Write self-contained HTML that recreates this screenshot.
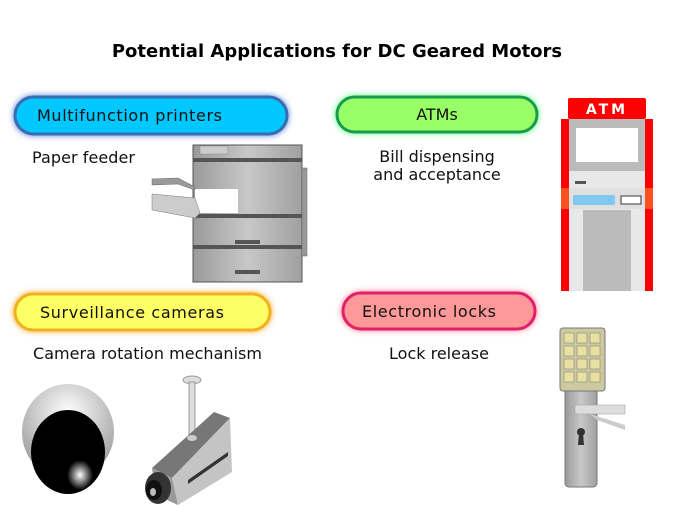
<!DOCTYPE html>
<html><head><style>
body{margin:0;background:#fff}
svg{display:block}
text{font-family:"DejaVu Sans","Liberation Sans",sans-serif}
</style></head><body>
<svg width="675" height="506" viewBox="0 0 675 506" xmlns="http://www.w3.org/2000/svg">
<defs>
<filter id="g" x="-20%" y="-50%" width="140%" height="200%"><feGaussianBlur stdDeviation="3"/></filter>
<linearGradient id="gr" x1="0" x2="1"><stop offset="0" stop-color="#9a9a9a"/><stop offset=".5" stop-color="#c8c8c8"/><stop offset="1" stop-color="#a0a0a0"/></linearGradient>
<radialGradient id="dome" cx=".5" cy=".3" r=".7"><stop offset="0" stop-color="#fff"/><stop offset="1" stop-color="#999"/></radialGradient>
<radialGradient id="hl" cx=".5" cy=".5" r=".5"><stop offset="0" stop-color="#fff"/><stop offset="1" stop-color="#000"/></radialGradient>
</defs>
<text x="337" y="57" text-anchor="middle" font-size="18" font-weight="bold">Potential Applications for DC Geared Motors</text>

<!-- pills -->
<rect x="13" y="95" width="276" height="41" rx="20" fill="#6a8fe0" filter="url(#g)"/>
<rect x="15" y="97" width="272" height="37" rx="18.5" fill="#00c8ff" stroke="#3a6cb0" stroke-width="3"/>
<text x="37" y="121" font-size="16" fill="#111" textLength="185">Multifunction printers</text>

<rect x="335" y="95" width="204" height="39" rx="19" fill="#70ff90" filter="url(#g)"/>
<rect x="337" y="97" width="200" height="35" rx="17.5" fill="#99ff66" stroke="#1a9a50" stroke-width="3"/>
<text x="437" y="120" font-size="16" text-anchor="middle" fill="#111">ATMs</text>

<rect x="13" y="292" width="259" height="40" rx="20" fill="#ffb040" filter="url(#g)"/>
<rect x="15" y="294" width="255" height="36" rx="18" fill="#ffff66" stroke="#f0b020" stroke-width="3"/>
<text x="40" y="318" font-size="16" fill="#111" textLength="184">Surveillance cameras</text>

<rect x="341" y="291" width="196" height="40" rx="20" fill="#ff90a0" filter="url(#g)"/>
<rect x="343" y="293" width="192" height="36" rx="18" fill="#ff9999" stroke="#e0206a" stroke-width="3"/>
<text x="362" y="317" font-size="16" fill="#111" textLength="134">Electronic locks</text>

<g font-size="16" fill="#111">
<text x="32" y="163" textLength="103">Paper feeder</text>
<text x="437" y="162" text-anchor="middle">Bill dispensing</text>
<text x="437" y="180" text-anchor="middle">and acceptance</text>
<text x="33" y="359" textLength="229">Camera rotation mechanism</text>
<text x="439" y="359" text-anchor="middle">Lock release</text>
</g>

<!-- printer -->
<rect x="193" y="145" width="109" height="137" fill="url(#gr)" stroke="#555"/>
<rect x="302" y="168" width="5" height="88" fill="#999" stroke="#666" stroke-width=".5"/>
<rect x="200" y="146" width="28" height="8" fill="#ccc" stroke="#888" stroke-width=".5"/>
<rect x="193" y="158" width="109" height="4" fill="#555"/>
<rect x="193" y="214" width="109" height="4" fill="#555"/>
<rect x="193" y="245" width="109" height="4" fill="#555"/>
<rect x="195" y="189" width="43" height="24" fill="#fff"/>
<rect x="235" y="240" width="25" height="4" fill="#555"/>
<rect x="235" y="270" width="25" height="4" fill="#555"/>
<path d="M152 179 L178 178 L195 187 L195 190 L178 184 L152 185Z" fill="#999" stroke="#666" stroke-width=".5"/>
<path d="M152 194 L195 198 L200 213 L195 218 L152 210Z" fill="#ccc" stroke="#777" stroke-width=".5"/>

<!-- ATM -->
<rect x="568" y="98" width="78" height="21" rx="2" fill="#f00"/>
<text x="607" y="114" font-size="14" font-weight="bold" fill="#fff" text-anchor="middle" letter-spacing="3">ATM</text>
<rect x="561" y="119" width="92" height="172" fill="#f00"/>
<rect x="569" y="119" width="76" height="172" fill="#e8e8e8"/>
<rect x="569" y="119" width="76" height="52" fill="#bbb"/>
<rect x="576" y="128" width="62" height="34" fill="#fff"/>
<rect x="575" y="181" width="11" height="3" fill="#555"/>
<rect x="561" y="188" width="92" height="21" fill="#ff5020"/>
<rect x="569" y="188" width="76" height="21" fill="#e0e0e0"/>
<rect x="573" y="195" width="42" height="10" rx="2" fill="#80c8f0"/>
<rect x="621" y="196" width="20" height="8" fill="#fff" stroke="#333"/>
<rect x="583" y="210" width="48" height="81" fill="#bbb"/>

<!-- dome camera -->
<ellipse cx="68" cy="432" rx="46" ry="48" fill="url(#dome)"/>
<ellipse cx="68" cy="452" rx="37" ry="42" fill="#000"/>
<ellipse cx="80" cy="475" rx="13" ry="15" fill="url(#hl)"/>

<!-- box camera -->
<ellipse cx="192" cy="380" rx="9" ry="4" fill="#ddd" stroke="#999"/>
<rect x="189" y="382" width="6" height="55" fill="#ddd" stroke="#999"/>
<path d="M152 468 L214 412 L230 418 L172 478Z" fill="#777"/>
<path d="M172 478 L230 418 L232 472 L178 505Z" fill="#c4c4c4"/>
<path d="M152 468 L172 478 L178 505 L156 495Z" fill="#999"/>
<ellipse cx="192" cy="438" rx="5" ry="3" fill="#ccc"/>
<path d="M188 480 L228 452 L228 456 L188 484Z" fill="#333"/>
<ellipse cx="158" cy="488" rx="13" ry="16" fill="#333"/>
<ellipse cx="154" cy="490" rx="8" ry="10" fill="#111"/>
<ellipse cx="153" cy="492" rx="3" ry="4" fill="#bbb"/>

<!-- lock -->
<rect x="565" y="380" width="32" height="107" rx="4" fill="url(#gr)" stroke="#777"/>
<rect x="560" y="328" width="45" height="63" rx="3" fill="#ccc8a0" stroke="#777"/>
<g fill="#e8e0a0" stroke="#777" stroke-width=".5">
<rect x="564" y="333" width="10" height="10"/><rect x="577" y="333" width="10" height="10"/><rect x="590" y="333" width="10" height="10"/>
<rect x="564" y="346" width="10" height="10"/><rect x="577" y="346" width="10" height="10"/><rect x="590" y="346" width="10" height="10"/>
<rect x="564" y="359" width="10" height="10"/><rect x="577" y="359" width="10" height="10"/><rect x="590" y="359" width="10" height="10"/>
<rect x="564" y="372" width="10" height="10"/><rect x="577" y="372" width="10" height="10"/><rect x="590" y="372" width="10" height="10"/>
</g>
<rect x="575" y="405" width="50" height="9" fill="#ddd" stroke="#999" stroke-width=".5"/>
<path d="M590 414 L625 425 L625 430 L597 420Z" fill="#ccc"/>
<circle cx="581" cy="432" r="4" fill="#333"/>
<path d="M579 433 L583 433 L584 445 L578 445Z" fill="#333"/>
</svg>
</body></html>
